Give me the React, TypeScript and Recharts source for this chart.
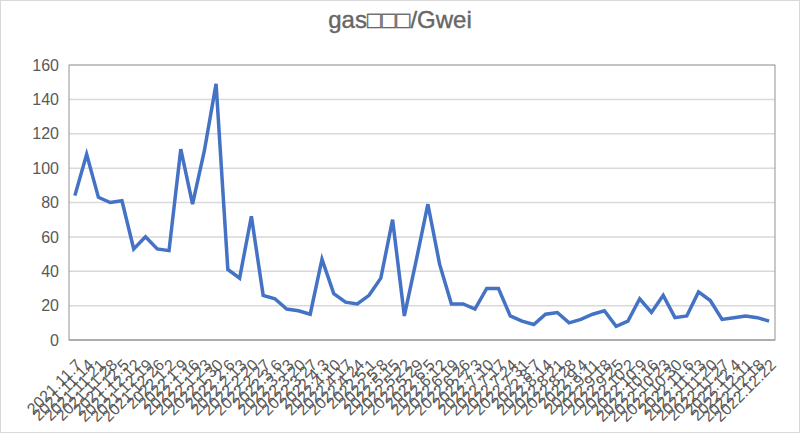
import React from 'react';
import { LineChart, Line, XAxis, YAxis, CartesianGrid, ReferenceArea } from 'recharts';

// weekly dates, as printed under the axis
const dates = [
  '2021.11.7', '2021.11.14', '2021.11.21', '2021.11.28', '2021.12.5', '2021.12.12', '2021.12.19', '2021.12.26',
  '2022.1.2', '2022.1.9', '2022.1.16', '2022.1.23', '2022.1.30', '2022.2.6', '2022.2.13', '2022.2.20',
  '2022.2.27', '2022.3.6', '2022.3.13', '2022.3.20', '2022.3.27', '2022.4.3', '2022.4.10', '2022.4.17',
  '2022.4.24', '2022.5.1', '2022.5.8', '2022.5.15', '2022.5.22', '2022.5.29', '2022.6.5', '2022.6.12',
  '2022.6.19', '2022.6.26', '2022.7.3', '2022.7.10', '2022.7.17', '2022.7.24', '2022.7.31', '2022.8.7',
  '2022.8.14', '2022.8.21', '2022.8.28', '2022.9.4', '2022.9.11', '2022.9.18', '2022.9.25', '2022.10.2',
  '2022.10.9', '2022.10.16', '2022.10.23', '2022.10.30', '2022.11.6', '2022.11.13', '2022.11.20', '2022.11.27',
  '2022.12.4', '2022.12.11', '2022.12.18', '2022.12.22',
];

const gwei = [
  84, 108, 83, 80, 81, 53, 60, 53, 52, 111, 79, 110, 149, 41, 36, 72,
  26, 24, 18, 17, 15, 47, 27, 22, 21, 26, 36, 70, 14, 46, 79, 44,
  21, 21, 18, 30, 30, 14, 11, 9, 15, 16, 10, 12, 15, 17, 8, 11,
  24, 16, 26, 13, 14, 28, 23, 12, 13, 14, 13, 11,
];

const yTicks = [0, 20, 40, 60, 80, 100, 120, 140, 160];

const title = 'gas\u25A1\u25A1\u25A1/Gwei';

const chartData = dates.map((date, i) => ({ date, gwei: gwei[i] }));

const textColor = '#595959';
const font = '"Liberation Sans", Arial, sans-serif';

export default function App() {
  return (
    <div
      style={{
        position: 'absolute',
        left: 0,
        top: 0,
        width: 800,
        height: 433,
        boxSizing: 'border-box',
        border: '1px solid #d9d9d9',
        background: '#fff',
        fontFamily: font,
      }}
    >
      <div
        style={{
          position: 'absolute',
          top: 5,
          left: 0,
          width: '100%',
          textAlign: 'center',
          fontSize: 24,
          color: '#666666',
          WebkitTextStroke: '0.4px #666666',
        }}
      >
        {title}
      </div>
      <div style={{ position: 'absolute', left: -1, top: -1 }}>
        <LineChart width={800} height={433} data={chartData} margin={{ top: 65, right: 25, bottom: 0, left: 0 }}>
          <CartesianGrid vertical={false} stroke="#d9d9d9" strokeWidth={1.5} />
          <ReferenceArea y1={0} y2={160} fill="none" stroke="#a6a6a6" strokeWidth={1.2} />
          <XAxis
            dataKey="date"
            scale="band"
            interval={0}
            angle={-45}
            textAnchor="end"
            height={93}
            tickLine={false}
            tickMargin={12}
            axisLine={{ stroke: '#a6a6a6', strokeWidth: 1.5 }}
            tick={{ fill: textColor, fontSize: 16, fontFamily: font }}
          />
          <YAxis
            width={69}
            domain={[0, 160]}
            ticks={yTicks}
            tickLine={false}
            axisLine={false}
            tickMargin={4}
            tick={{ fill: textColor, fontSize: 16, fontFamily: font }}
          />
          <Line
            type="linear"
            dataKey="gwei"
            stroke="#4472c4"
            strokeWidth={3.5}
            dot={false}
            isAnimationActive={false}
          />
        </LineChart>
      </div>
    </div>
  );
}
